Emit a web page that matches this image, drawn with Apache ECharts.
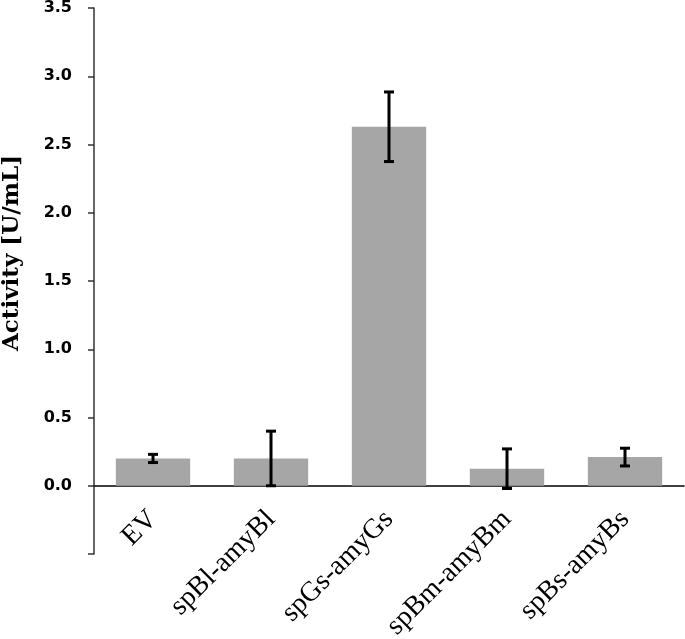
<!DOCTYPE html>
<html><head><meta charset="utf-8">
<script src="https://cdn.jsdelivr.net/npm/echarts@6/dist/echarts.min.js"></script>
<style>html,body{margin:0;padding:0;background:#fff}#c{width:685px;height:639px}</style>
</head><body><div id="c"></div>
<script>
var categories = ['EV', 'spBl-amyBl', 'spGs-amyGs', 'spBm-amyBm', 'spBs-amyBs'];
var activity = [0.20, 0.20, 2.63, 0.125, 0.21];
var errors = [0.03, 0.20, 0.255, 0.145, 0.065];
var yTicks = [0.0, 0.5, 1.0, 1.5, 2.0, 2.5, 3.0, 3.5];

var chart = echarts.init(document.getElementById('c'));
var errData = categories.map(function (c, i) { return [i, activity[i] - errors[i], activity[i] + errors[i]]; });
chart.setOption({
  animation: false,
  backgroundColor: '#fff',
  grid: { left: 94, right: 1, top: 8, bottom: 85, containLabel: false, outerBoundsMode: 'none' },
  xAxis: {
    type: 'category', data: categories,
    axisLine: { onZero: true, lineStyle: { color: '#000', width: 1.5 } },
    axisTick: { show: false },
    axisLabel: { rotate: 45, margin: -39, interval: 0, color: '#000',
      fontFamily: 'Liberation Serif', fontSize: 28 }
  },
  yAxis: {
    type: 'value', min: -0.5, max: 3.5, interval: 0.5,
    splitLine: { show: false },
    axisLine: { show: true, lineStyle: { color: '#333', width: 1.5 } },
    axisTick: { show: true, length: 6, lineStyle: { color: '#333', width: 1.5 } },
    axisLabel: { margin: 22, color: '#000', fontWeight: 'bold', fontSize: 16,
      fontFamily: 'DejaVu Sans', showMaxLabel: true,
      formatter: function (v) { return v < 0 ? '' : (yTicks.indexOf(v) >= 0 ? v.toFixed(1) : ''); } }
  },
  graphic: [{
    type: 'text', x: 12, y: 253, rotation: Math.PI / 2,
    style: { text: 'Activity [U/mL]', fill: '#000', font: 'bold 23px "DejaVu Serif"',
      align: 'center', verticalAlign: 'middle' }
  }],
  series: [{
    type: 'bar', data: activity, barWidth: '63%',
    itemStyle: { color: '#a6a6a6' }
  }, {
    type: 'custom', data: errData, z: 10,
    renderItem: function (params, api) {
      var x = api.value(0);
      var lo = api.coord([x, api.value(1)]);
      var hi = api.coord([x, api.value(2)]);
      var hw = 5;
      var st = { stroke: '#000', lineWidth: 3 };
      return { type: 'group', children: [
        { type: 'line', shape: { x1: lo[0], y1: lo[1], x2: hi[0], y2: hi[1] }, style: st },
        { type: 'line', shape: { x1: hi[0] - hw, y1: hi[1], x2: hi[0] + hw, y2: hi[1] }, style: st },
        { type: 'line', shape: { x1: lo[0] - hw, y1: lo[1], x2: lo[0] + hw, y2: lo[1] }, style: st }
      ] };
    }
  }]
});
</script></body></html>
